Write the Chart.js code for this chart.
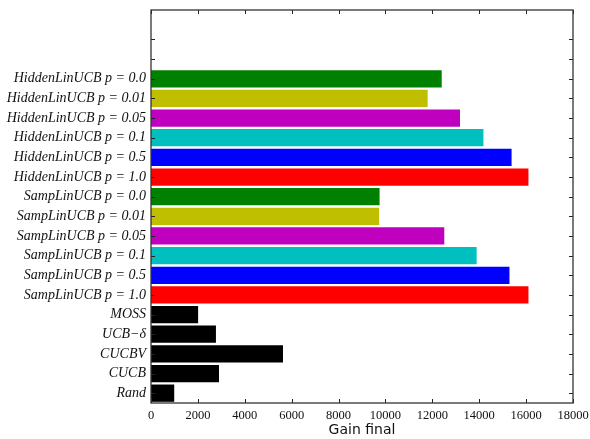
<!DOCTYPE html>
<html>
<head>
<meta charset="utf-8">
<script src="https://cdn.jsdelivr.net/npm/chart.js@4/dist/chart.umd.min.js"></script>
<style>
html,body{margin:0;padding:0;background:#fff;}
#wrap{width:590px;height:439px;}
</style>
</head>
<body>
<div id="wrap"><canvas id="c" width="590" height="439"></canvas></div>
<script>
const categories = [
  '', '', '',
  'HiddenLinUCB p = 0.0', 'HiddenLinUCB p = 0.01', 'HiddenLinUCB p = 0.05',
  'HiddenLinUCB p = 0.1', 'HiddenLinUCB p = 0.5', 'HiddenLinUCB p = 1.0',
  'SampLinUCB p = 0.0', 'SampLinUCB p = 0.01', 'SampLinUCB p = 0.05',
  'SampLinUCB p = 0.1', 'SampLinUCB p = 0.5', 'SampLinUCB p = 1.0',
  'MOSS', 'UCB\u2212\u03b4', 'CUCBV', 'CUCB', 'Rand'
];
const gainFinal = [
  null, null, null,
  12400, 11800, 13180, 14180, 15380, 16100,
  9750, 9730, 12510, 13890, 15290, 16100,
  2010, 2770, 5630, 2900, 990
];
const xTicks = [0, 2000, 4000, 6000, 8000, 10000, 12000, 14000, 16000, 18000];
const barColors = [
  '#000', '#000', '#000',
  '#008000', '#bfbf00', '#bf00bf', '#00bfbf', '#0000ff', '#ff0000',
  '#008000', '#bfbf00', '#bf00bf', '#00bfbf', '#0000ff', '#ff0000',
  '#000000', '#000000', '#000000', '#000000', '#000000'
];

const frameTicks = {
  id: 'frameTicks',
  afterDraw(chart) {
    const {ctx, chartArea: a, scales} = chart;
    ctx.save();
    ctx.strokeStyle = '#222';
    ctx.lineWidth = 1;
    const L = 4;
    const xs = scales.x;
    xs.ticks.forEach((t, i) => {
      const px = Math.round(xs.getPixelForTick(i)) + 0.5;
      ctx.beginPath();
      ctx.moveTo(px, a.bottom); ctx.lineTo(px, a.bottom - L);
      ctx.moveTo(px, a.top); ctx.lineTo(px, a.top + L);
      ctx.stroke();
    });
    const ys = scales.y;
    ys.ticks.forEach((t, i) => {
      if (i === 0) return;
      const py = Math.round(ys.getPixelForTick(i)) + 0.5;
      ctx.beginPath();
      ctx.moveTo(a.left, py); ctx.lineTo(a.left + L, py);
      ctx.moveTo(a.right, py); ctx.lineTo(a.right - L, py);
      ctx.stroke();
    });
    ctx.strokeStyle = '#333';
    ctx.lineWidth = 1.3;
    ctx.strokeRect(a.left, a.top, a.right - a.left, a.bottom - a.top);
    ctx.restore();
  }
};

new Chart(document.getElementById('c'), {
  type: 'bar',
  data: {
    labels: categories,
    datasets: [{
      data: gainFinal,
      backgroundColor: barColors,
      borderWidth: 0,
      barPercentage: 0.88,
      categoryPercentage: 1.0
    }]
  },
  options: {
    indexAxis: 'y',
    responsive: false,
    animation: false,
    devicePixelRatio: 1,
    layout: {padding: {top: 10, right: 17, left: 0, bottom: 0}},
    plugins: {legend: {display: false}, tooltip: {enabled: false}},
    scales: {
      x: {
        type: 'linear',
        min: 0, max: 18000,
        afterBuildTicks(scale) { scale.ticks = xTicks.map(v => ({value: v})); },
        grid: {display: false, drawTicks: false},
        border: {display: false},
        ticks: {
          color: '#111',
          padding: 5,
          maxRotation: 0,
          autoSkip: false,
          font: {family: 'Liberation Serif', size: 12.5},
          callback: v => String(v)
        },
        title: {
          display: true,
          text: 'Gain final',
          color: '#111',
          font: {family: 'DejaVu Sans', size: 14},
          padding: {top: 2, bottom: 0}
        },
        afterFit(scale) { scale.height = 36; scale.paddingLeft = 0; scale.paddingRight = 0; }
      },
      y: {
        type: 'category',
        offset: true,
        grid: {display: false, drawTicks: false},
        border: {display: false},
        ticks: {
          color: '#111',
          padding: 5,
          autoSkip: false,
          font: {family: 'Liberation Serif', size: 14, style: 'italic'}
        },
        afterFit(scale) { scale.width = 151; scale.paddingTop = 0; scale.paddingBottom = 0; }
      }
    }
  },
  plugins: [frameTicks]
});
</script>
</body>
</html>
